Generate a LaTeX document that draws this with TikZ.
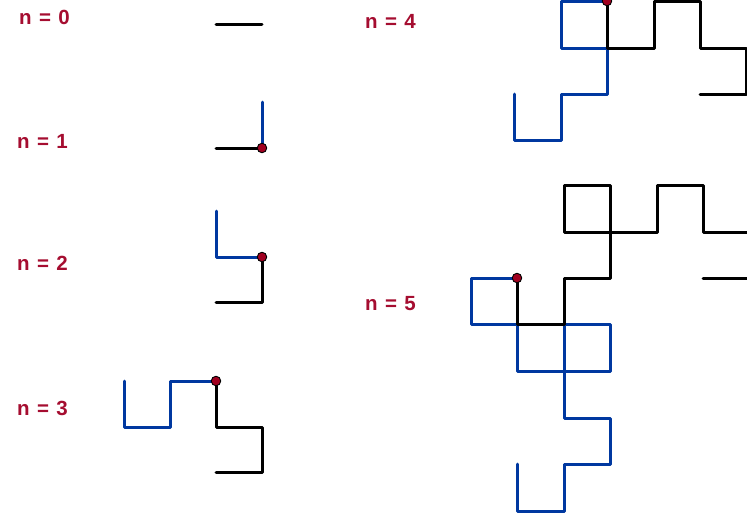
\documentclass[tikz,border=0pt]{standalone}
\usepackage{fontspec}
\setmainfont{Liberation Sans}
\definecolor{lblred}{HTML}{A50D30}
\definecolor{curveblue}{HTML}{0038A0}
\definecolor{dotred}{HTML}{A00020}
\newcommand{\lsp}{\hspace{0.36em}}
\begin{document}
\begin{tikzpicture}[x=1pt,y=-1pt,
  blk/.style={draw=black,line width=3pt,line join=round,line cap=round},
  blu/.style={draw=curveblue,line width=3pt,line join=round,line cap=round},
  pivot/.style={circle,fill=dotred,draw=black,line width=0.9pt,inner sep=0pt,minimum size=9.5pt},
  lbl/.style={anchor=base west,inner sep=0pt,text=lblred,font=\fontsize{20.5}{22}\selectfont\bfseries}]
\useasboundingbox (0,0) rectangle (747,512);
\clip (0,0) rectangle (747,512);
% labels
\node[lbl] (l0) at (19,24) {n\lsp=\lsp0};
\node[lbl] (l1) at (17,148) {n\lsp=\lsp1};
\node[lbl] (l2) at (17,270) {n\lsp=\lsp2};
\node[lbl] (l3) at (17,415) {n\lsp=\lsp3};
\node[lbl] (l4) at (365,28) {n\lsp=\lsp4};
\node[lbl] (l5) at (365,310) {n\lsp=\lsp5};
% n = 0
\path[blk] (216,24) -- (262,24);
% n = 1
\path[blu] (262,148) -- (262,102);
\path[blk] (216,148) -- (262,148);
\node[pivot] (p1) at (262,148) {};
% n = 2
\path[blu] (262,257) -- (216,257) -- (216,211);
\path[blk] (216,302) -- (262,302) -- (262,257);
\node[pivot] (p2) at (262,257) {};
% n = 3
\path[blu] (216,381) -- (170,381) -- (170,427) -- (124,427) -- (124,381);
\path[blk] (216,472) -- (262,472) -- (262,427) -- (216,427) -- (216,381);
\node[pivot] (p3) at (216,381) {};
% n = 4
\path[blu] (607,1) -- (561,1) -- (561,48) -- (607,48) -- (607,94) -- (561,94) -- (561,140) -- (514,140) -- (514,94);
\path[blk] (700,94) -- (746,94) -- (746,48) -- (700,48) -- (700,1) -- (654,1) -- (654,48) -- (607,48) -- (607,1);
\node[pivot] (p4) at (607,1) {};
% n = 5
\path[blu] (517,278) -- (471,278) -- (471,324) -- (517,324) -- (517,371) -- (564,371) -- (564,324) -- (610,324) -- (610,371) -- (564,371) -- (564,418) -- (610,418) -- (610,464) -- (564,464) -- (564,511) -- (517,511) -- (517,464);
\path[blk] (703,278) -- (750,278) -- (750,232) -- (703,232) -- (703,185) -- (657,185) -- (657,232) -- (610,232) -- (610,185) -- (564,185) -- (564,232) -- (610,232) -- (610,278) -- (564,278) -- (564,324) -- (517,324) -- (517,278);
\node[pivot] (p5) at (517,278) {};
\end{tikzpicture}
\end{document}
